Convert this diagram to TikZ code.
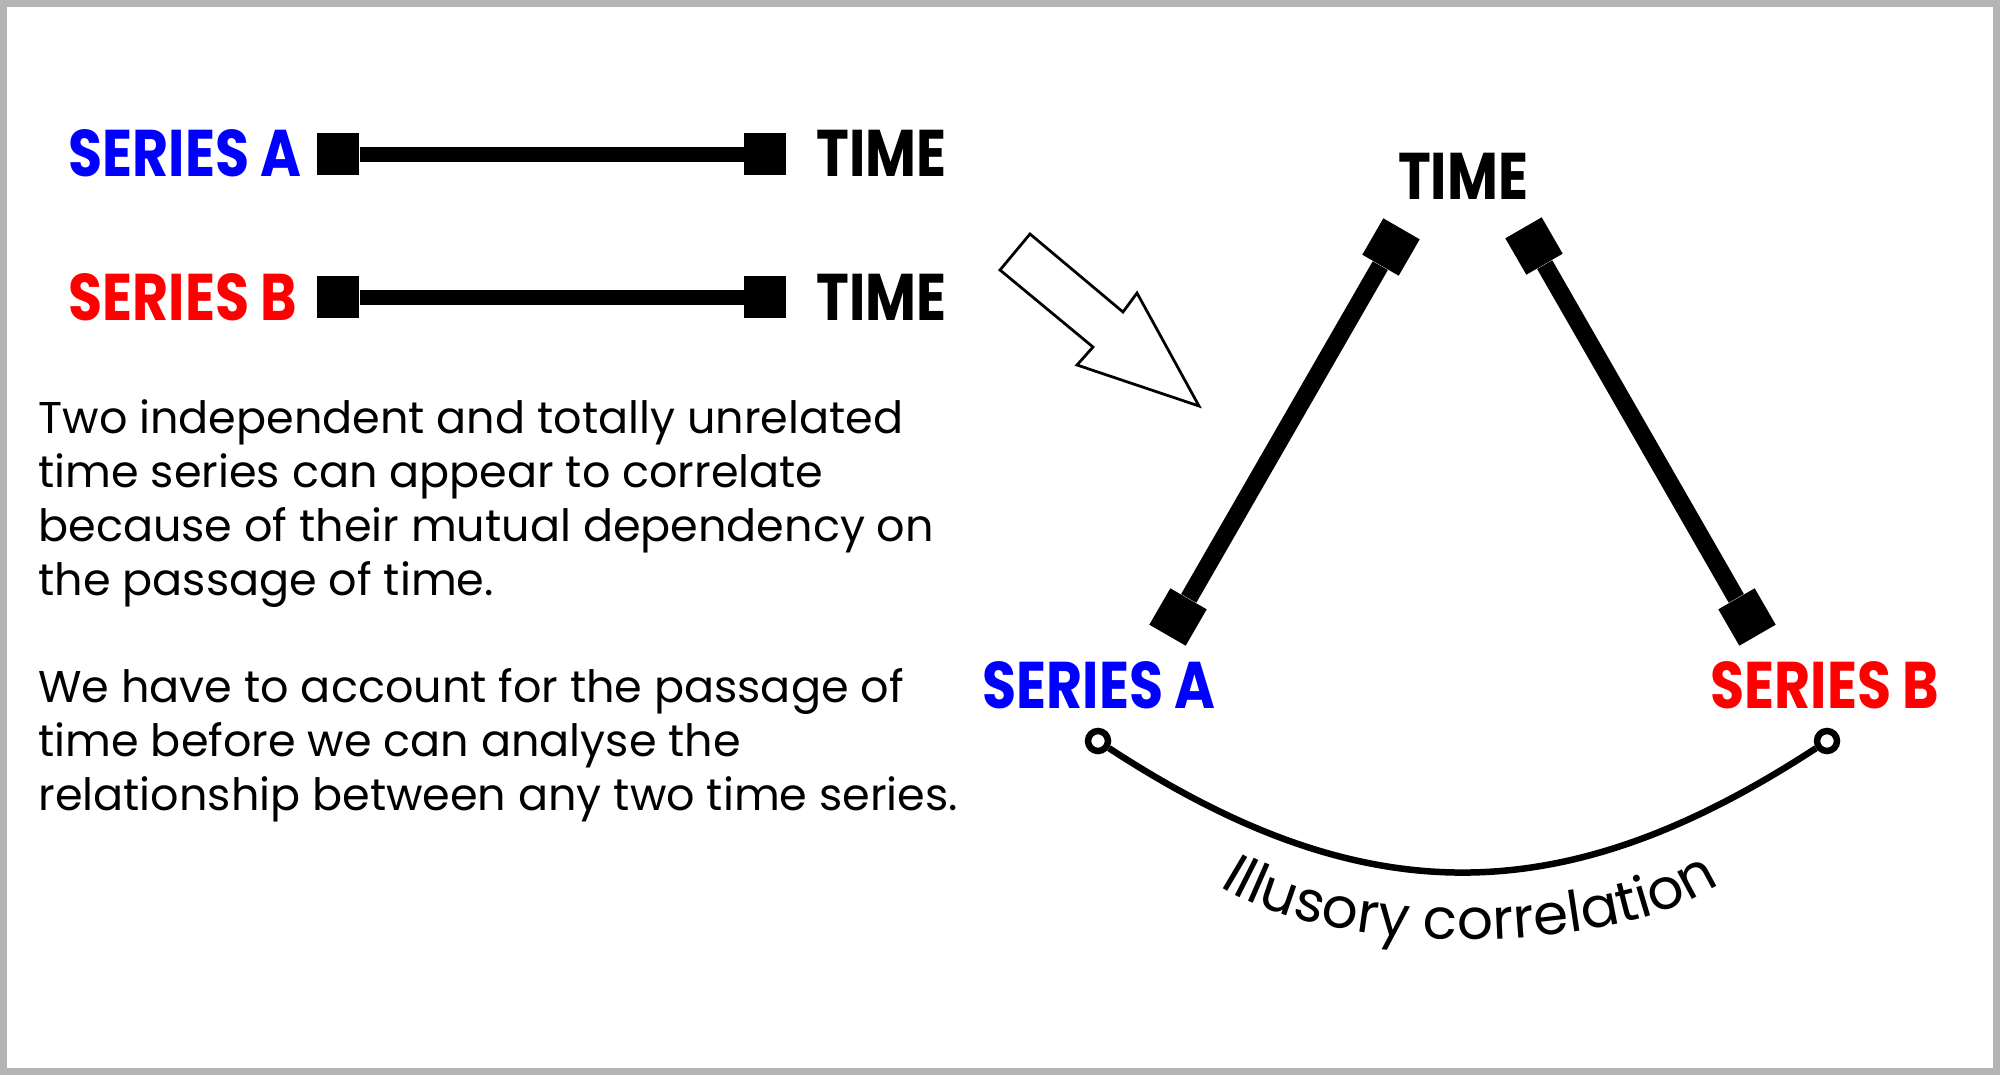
\documentclass[tikz,border=0pt]{standalone}
\usepackage{fontspec}
\usetikzlibrary{decorations.text}
\newfontfamily\headfont[FakeStretch=0.84]{Poppins}
\newfontfamily\bodyfont{Poppins}
\definecolor{seriesblue}{RGB}{0,0,255}
\definecolor{seriesred}{RGB}{255,0,0}
\definecolor{framegray}{RGB}{180,180,180}
\begin{document}
\begin{tikzpicture}[x=0.4pt, y=-0.4pt,
		endsq/.style={rectangle, fill=black, inner sep=0pt, minimum size=16.8pt},
		endring/.style={circle, draw=black, fill=white, line width=2.6pt, inner sep=0pt, minimum size=8pt},
		headlabel/.style={font=\headfont\bfseries\fontsize{26.4}{30}\selectfont, inner sep=0pt},
		bodytext/.style={font=\bodyfont\fontsize{17.8}{21.6}\selectfont, inner sep=0pt, align=left, anchor=north west}]
		    \useasboundingbox (0,0) rectangle (2000,1075);
		    \draw [framegray, line width=2.8pt] (3.5,3.5) rectangle (1996.5,1071.5);
		    
		    % the two series against time
		    \node [headlabel, seriesblue, anchor=base west] (labA) at (68,176) {SERIES A};
		    \node [endsq] (AL) at (338,154) {};
		    \node [endsq] (AR) at (765,154) {};
		    \node [headlabel, anchor=base west] (timeA) at (816,176) {TIME};
			\draw [line width=6pt] (AL) -- (AR);
			
		    \node [headlabel, seriesred, anchor=base west] (labB) at (68,320) {SERIES B};
		    \node [endsq] (BL) at (338,297) {};
		    \node [endsq] (BR) at (765,297) {};
		    \node [headlabel, anchor=base west] (timeB) at (816,320) {TIME};
			\draw [line width=6pt] (BL) -- (BR);
			
			\node [bodytext] (textA) at (38,399) {Two independent and totally unrelated\\time series can appear to correlate\\because of their mutual dependency on\\the passage of time.};
			\node [bodytext] (textB) at (38,668) {We have to account for the passage of\\time before we can analyse the\\relationship between any two time series.};
			
			% hollow arrow
			\draw [line width=1.1pt, line join=miter] (1030,234) -- (1123,312) -- (1137,293) -- (1199,406) -- (1077,365) -- (1093,347) -- (1000,270) -- cycle;
			
			% triangle
		    \node [headlabel, anchor=base] (timeC) at (1463,199) {TIME};
		    \node [endsq, rotate=60] (CA) at (1391,247) {};
		    \node [endsq, rotate=60] (CB) at (1178,617) {};
		    \node [endsq, rotate=-60] (DA) at (1534,246) {};
		    \node [endsq, rotate=-60] (DB) at (1747,617) {};
			\draw [line width=7pt] (CA) -- (CB);
			\draw [line width=7pt] (DA) -- (DB);
			
		    \node [headlabel, seriesblue, anchor=base west] (labC) at (982,708) {SERIES A};
		    \node [headlabel, seriesred, anchor=base east] (labD) at (1940,708) {SERIES B};
			
			\node [endring] (EA) at (1098,741) {};
			\node [endring] (EB) at (1827,741) {};
			\draw [line width=2.6pt] (EA) .. controls (1363,914) and (1562,914) .. (EB);
			
			\path [decorate, decoration={text along path, text align=center,
				text={|\bodyfont\fontsize{22.6}{26}\selectfont|Illusory correlation}}]
				(1218,885) .. controls (1328,958) and (1612,958) .. (1722,883);
		\end{tikzpicture}
\end{document}
